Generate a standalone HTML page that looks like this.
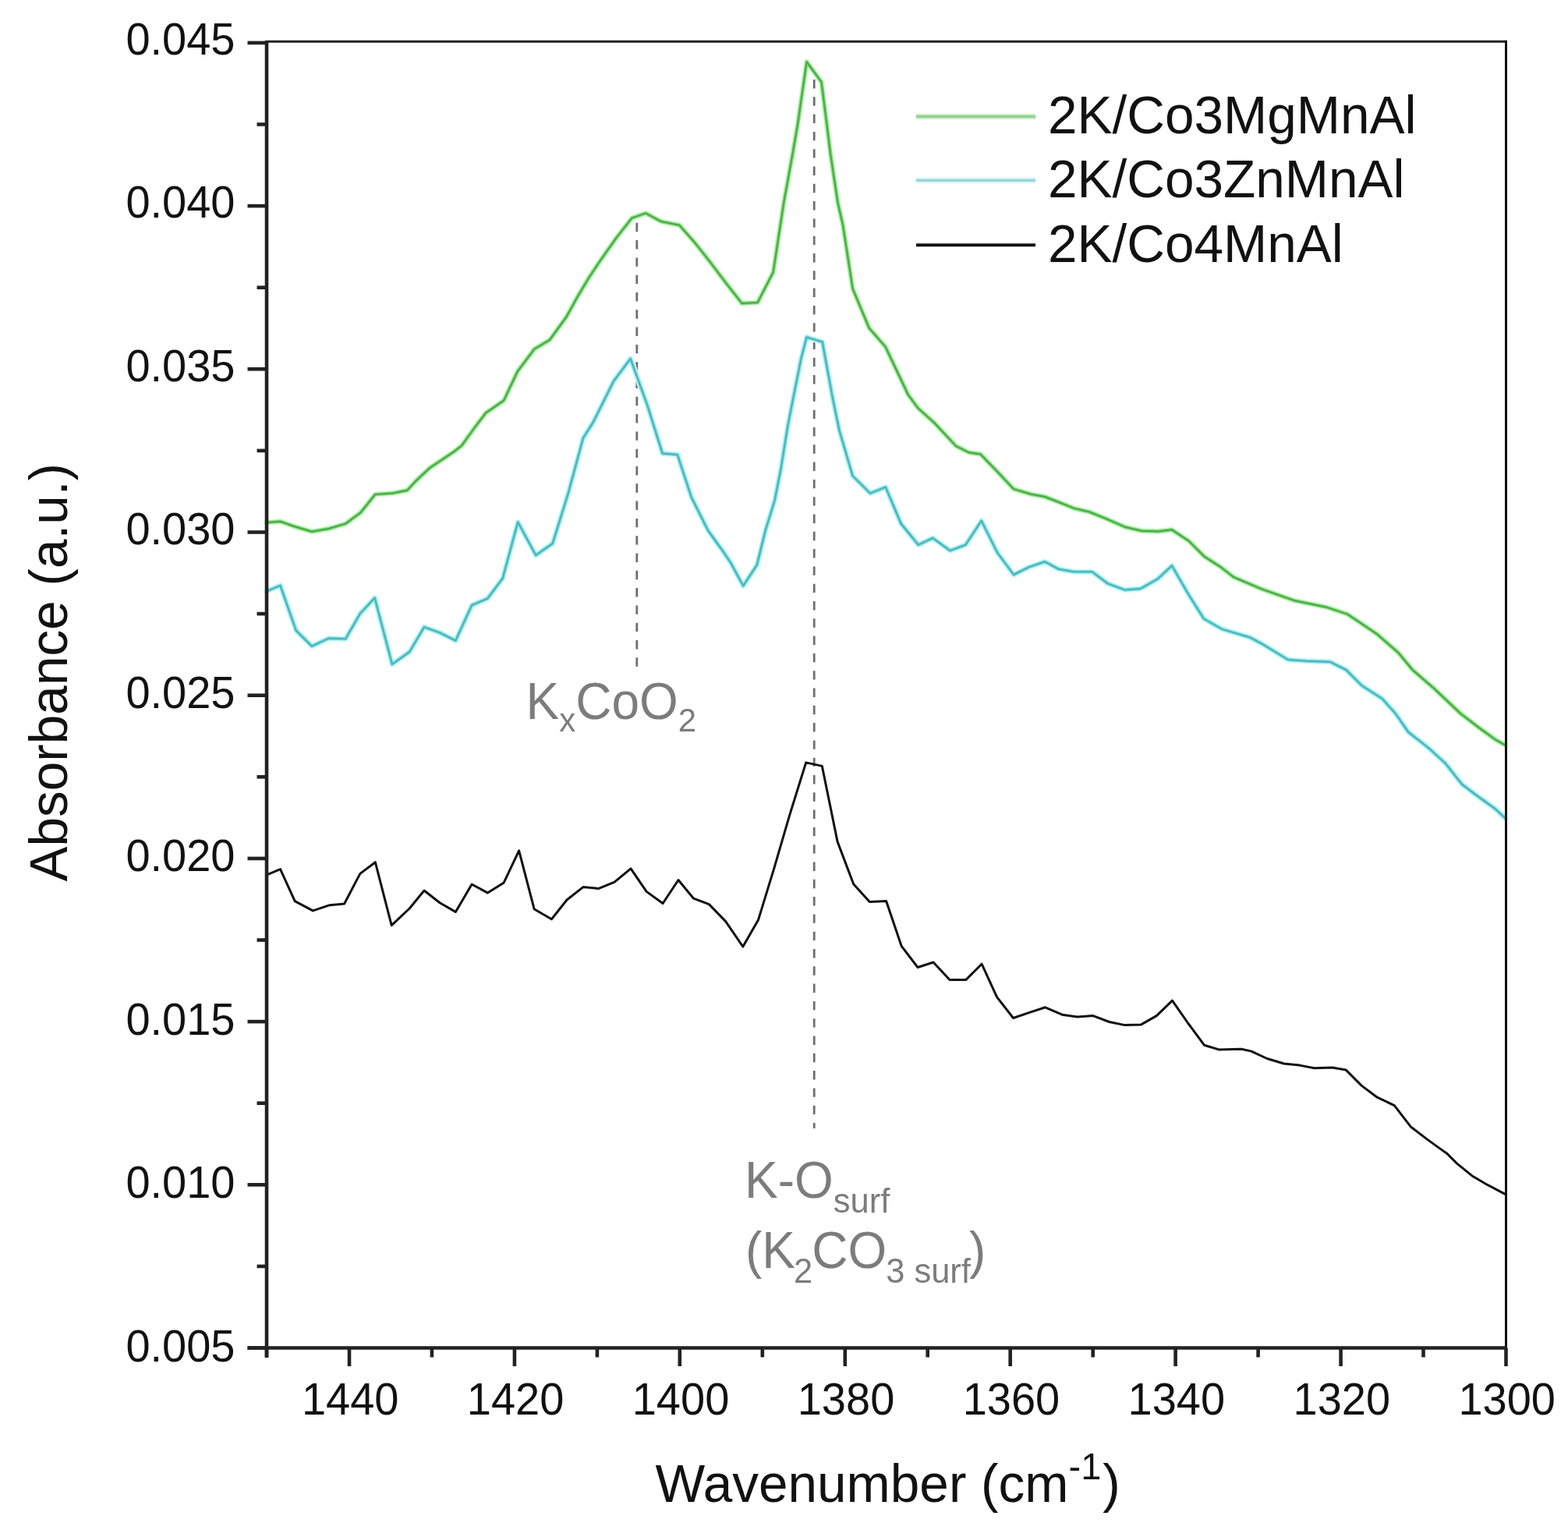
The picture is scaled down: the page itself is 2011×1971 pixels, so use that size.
<!DOCTYPE html>
<html><head><meta charset="utf-8"><title>Absorbance vs Wavenumber</title>
<style>
html,body{margin:0;padding:0;background:#fff;overflow:hidden;}
svg{display:block;}
text{font-family:"Liberation Sans",Arial,sans-serif;fill:#111;}
.tl{font-size:56px;}
.ax{stroke:#222;stroke-width:4.6;}
.lg{font-size:67.5px;}
.an{fill:#7c7c7c;}
</style></head>
<body>
<svg width="2011" height="1971" viewBox="0 0 2011 1971">
<rect x="0" y="0" width="2011" height="1971" fill="#fff"/>
<g id="dashes" stroke="#6e6e6e" stroke-width="2.8" stroke-dasharray="11.4 10.9" fill="none">
<line x1="816.8" y1="285.8" x2="816.8" y2="856"/>
<line x1="1044.2" y1="102" x2="1044.2" y2="1447"/>
</g>
<g id="halos" fill="none" stroke-linejoin="round" stroke-linecap="round">
<polyline stroke="#d8fad5" stroke-width="7.5" points="342.2,670.0 359.5,668.7 378.2,675.3 399.9,681.7 421.5,678.0 443.1,671.6 462.6,657.2 481.2,634.0 503.8,632.5 522.3,628.7 532.6,617.5 551.2,600.0 582.0,579.4 592.3,571.2 606.8,551.0 622.9,529.6 646.1,513.6 663.9,476.1 685.4,447.5 705.0,435.9 726.4,406.4 740.7,380.5 755.0,356.5 769.3,335.0 790.7,304.6 810.4,279.6 828.2,273.4 847.9,284.1 871.4,288.8 891.4,311.5 911.5,337.0 931.5,363.5 951.5,389.0 971.6,388.0 991.6,349.3 1005.2,260.0 1016.7,196.6 1023.0,159.8 1034.6,79.4 1053.5,105.2 1059.8,154.5 1065.0,196.6 1074.5,260.0 1081.0,288.3 1093.6,370.2 1114.6,420.6 1135.6,444.8 1165.0,506.7 1177.6,523.6 1198.6,542.5 1225.9,571.9 1242.7,580.3 1257.4,582.4 1279.1,604.8 1300.1,627.1 1322.3,633.8 1340.0,637.0 1356.0,643.2 1377.6,651.9 1396.4,656.2 1418.0,664.9 1442.5,675.7 1464.1,680.7 1485.7,681.4 1503.0,679.3 1524.6,693.7 1544.8,713.8 1565.0,726.8 1582.0,740.0 1618.1,755.4 1659.3,769.9 1700.4,778.4 1728.2,787.6 1765.3,812.6 1793.1,836.7 1811.6,859.0 1839.4,883.1 1857.3,900.0 1874.0,915.7 1897.1,933.4 1917.5,948.2 1930.5,955.6"/>
<polyline stroke="#d2fafa" stroke-width="7.5" points="342.2,758.1 359.5,750.9 379.7,808.5 399.9,828.7 421.5,818.6 443.1,819.3 461.8,786.9 480.6,766.7 502.9,851.8 525.2,835.9 544.0,804.2 564.1,811.4 584.3,821.5 605.1,776.2 625.3,767.5 644.7,741.6 664.2,669.5 687.2,712.0 708.8,696.9 728.9,632.0 747.9,561.8 760.4,542.1 787.1,488.6 808.6,460.0 830.0,519.0 849.6,581.4 868.8,583.0 886.8,637.8 907.8,679.8 928.8,709.2 937.2,721.8 953.2,751.3 970.8,724.4 981.8,679.8 993.5,642.0 1001.4,601.8 1010.0,548.4 1014.4,525.4 1027.3,460.5 1034.5,432.4 1054.7,438.5 1067.7,509.5 1076.3,551.3 1093.6,610.4 1116.1,632.6 1135.8,624.6 1155.6,671.5 1177.8,698.7 1196.3,690.0 1218.6,706.1 1238.3,698.7 1258.7,667.8 1279.1,708.6 1300.1,737.0 1319.9,727.1 1340.2,720.3 1357.5,729.7 1377.6,733.3 1400.7,733.3 1420.9,748.4 1442.5,756.4 1462.7,754.9 1484.3,742.7 1503.0,725.4 1524.6,762.8 1544.0,793.5 1567.6,806.9 1602.6,817.2 1618.1,825.4 1652.0,846.0 1676.3,847.8 1706.0,848.8 1726.4,859.0 1746.8,879.3 1772.7,896.0 1789.6,914.8 1806.3,938.9 1832.3,959.3 1853.6,978.7 1874.9,1005.6 1894.3,1020.4 1917.5,1037.1 1930.5,1049.2"/>
<polyline stroke="#84dc7e" stroke-width="4.6" points="342.2,670.0 359.5,668.7 378.2,675.3 399.9,681.7 421.5,678.0 443.1,671.6 462.6,657.2 481.2,634.0 503.8,632.5 522.3,628.7 532.6,617.5 551.2,600.0 582.0,579.4 592.3,571.2 606.8,551.0 622.9,529.6 646.1,513.6 663.9,476.1 685.4,447.5 705.0,435.9 726.4,406.4 740.7,380.5 755.0,356.5 769.3,335.0 790.7,304.6 810.4,279.6 828.2,273.4 847.9,284.1 871.4,288.8 891.4,311.5 911.5,337.0 931.5,363.5 951.5,389.0 971.6,388.0 991.6,349.3 1005.2,260.0 1016.7,196.6 1023.0,159.8 1034.6,79.4 1053.5,105.2 1059.8,154.5 1065.0,196.6 1074.5,260.0 1081.0,288.3 1093.6,370.2 1114.6,420.6 1135.6,444.8 1165.0,506.7 1177.6,523.6 1198.6,542.5 1225.9,571.9 1242.7,580.3 1257.4,582.4 1279.1,604.8 1300.1,627.1 1322.3,633.8 1340.0,637.0 1356.0,643.2 1377.6,651.9 1396.4,656.2 1418.0,664.9 1442.5,675.7 1464.1,680.7 1485.7,681.4 1503.0,679.3 1524.6,693.7 1544.8,713.8 1565.0,726.8 1582.0,740.0 1618.1,755.4 1659.3,769.9 1700.4,778.4 1728.2,787.6 1765.3,812.6 1793.1,836.7 1811.6,859.0 1839.4,883.1 1857.3,900.0 1874.0,915.7 1897.1,933.4 1917.5,948.2 1930.5,955.6"/>
<polyline stroke="#7ee0e4" stroke-width="4.6" points="342.2,758.1 359.5,750.9 379.7,808.5 399.9,828.7 421.5,818.6 443.1,819.3 461.8,786.9 480.6,766.7 502.9,851.8 525.2,835.9 544.0,804.2 564.1,811.4 584.3,821.5 605.1,776.2 625.3,767.5 644.7,741.6 664.2,669.5 687.2,712.0 708.8,696.9 728.9,632.0 747.9,561.8 760.4,542.1 787.1,488.6 808.6,460.0 830.0,519.0 849.6,581.4 868.8,583.0 886.8,637.8 907.8,679.8 928.8,709.2 937.2,721.8 953.2,751.3 970.8,724.4 981.8,679.8 993.5,642.0 1001.4,601.8 1010.0,548.4 1014.4,525.4 1027.3,460.5 1034.5,432.4 1054.7,438.5 1067.7,509.5 1076.3,551.3 1093.6,610.4 1116.1,632.6 1135.8,624.6 1155.6,671.5 1177.8,698.7 1196.3,690.0 1218.6,706.1 1238.3,698.7 1258.7,667.8 1279.1,708.6 1300.1,737.0 1319.9,727.1 1340.2,720.3 1357.5,729.7 1377.6,733.3 1400.7,733.3 1420.9,748.4 1442.5,756.4 1462.7,754.9 1484.3,742.7 1503.0,725.4 1524.6,762.8 1544.0,793.5 1567.6,806.9 1602.6,817.2 1618.1,825.4 1652.0,846.0 1676.3,847.8 1706.0,848.8 1726.4,859.0 1746.8,879.3 1772.7,896.0 1789.6,914.8 1806.3,938.9 1832.3,959.3 1853.6,978.7 1874.9,1005.6 1894.3,1020.4 1917.5,1037.1 1930.5,1049.2"/>
</g>
<g id="curves" fill="none" stroke-linejoin="round" stroke-linecap="round">
<polyline stroke="#4aa845" stroke-width="2.0" points="342.2,670.0 359.5,668.7 378.2,675.3 399.9,681.7 421.5,678.0 443.1,671.6 462.6,657.2 481.2,634.0 503.8,632.5 522.3,628.7 532.6,617.5 551.2,600.0 582.0,579.4 592.3,571.2 606.8,551.0 622.9,529.6 646.1,513.6 663.9,476.1 685.4,447.5 705.0,435.9 726.4,406.4 740.7,380.5 755.0,356.5 769.3,335.0 790.7,304.6 810.4,279.6 828.2,273.4 847.9,284.1 871.4,288.8 891.4,311.5 911.5,337.0 931.5,363.5 951.5,389.0 971.6,388.0 991.6,349.3 1005.2,260.0 1016.7,196.6 1023.0,159.8 1034.6,79.4 1053.5,105.2 1059.8,154.5 1065.0,196.6 1074.5,260.0 1081.0,288.3 1093.6,370.2 1114.6,420.6 1135.6,444.8 1165.0,506.7 1177.6,523.6 1198.6,542.5 1225.9,571.9 1242.7,580.3 1257.4,582.4 1279.1,604.8 1300.1,627.1 1322.3,633.8 1340.0,637.0 1356.0,643.2 1377.6,651.9 1396.4,656.2 1418.0,664.9 1442.5,675.7 1464.1,680.7 1485.7,681.4 1503.0,679.3 1524.6,693.7 1544.8,713.8 1565.0,726.8 1582.0,740.0 1618.1,755.4 1659.3,769.9 1700.4,778.4 1728.2,787.6 1765.3,812.6 1793.1,836.7 1811.6,859.0 1839.4,883.1 1857.3,900.0 1874.0,915.7 1897.1,933.4 1917.5,948.2 1930.5,955.6"/>
<polyline stroke="#4eb0b6" stroke-width="2.0" points="342.2,758.1 359.5,750.9 379.7,808.5 399.9,828.7 421.5,818.6 443.1,819.3 461.8,786.9 480.6,766.7 502.9,851.8 525.2,835.9 544.0,804.2 564.1,811.4 584.3,821.5 605.1,776.2 625.3,767.5 644.7,741.6 664.2,669.5 687.2,712.0 708.8,696.9 728.9,632.0 747.9,561.8 760.4,542.1 787.1,488.6 808.6,460.0 830.0,519.0 849.6,581.4 868.8,583.0 886.8,637.8 907.8,679.8 928.8,709.2 937.2,721.8 953.2,751.3 970.8,724.4 981.8,679.8 993.5,642.0 1001.4,601.8 1010.0,548.4 1014.4,525.4 1027.3,460.5 1034.5,432.4 1054.7,438.5 1067.7,509.5 1076.3,551.3 1093.6,610.4 1116.1,632.6 1135.8,624.6 1155.6,671.5 1177.8,698.7 1196.3,690.0 1218.6,706.1 1238.3,698.7 1258.7,667.8 1279.1,708.6 1300.1,737.0 1319.9,727.1 1340.2,720.3 1357.5,729.7 1377.6,733.3 1400.7,733.3 1420.9,748.4 1442.5,756.4 1462.7,754.9 1484.3,742.7 1503.0,725.4 1524.6,762.8 1544.0,793.5 1567.6,806.9 1602.6,817.2 1618.1,825.4 1652.0,846.0 1676.3,847.8 1706.0,848.8 1726.4,859.0 1746.8,879.3 1772.7,896.0 1789.6,914.8 1806.3,938.9 1832.3,959.3 1853.6,978.7 1874.9,1005.6 1894.3,1020.4 1917.5,1037.1 1930.5,1049.2"/>
<polyline stroke="#111" stroke-width="3.0" points="342.2,1121.8 359.5,1114.6 378.2,1155.7 401.3,1167.9 422.9,1160.7 441.6,1159.0 461.8,1120.4 481.3,1105.7 502.2,1186.6 525.2,1165.0 544.0,1142.0 564.1,1157.8 584.3,1169.4 605.1,1134.0 625.3,1144.9 646.2,1131.9 665.6,1090.8 685.1,1165.7 707.4,1178.7 727.0,1154.0 747.8,1137.6 767.9,1139.4 788.1,1131.2 809.0,1113.9 829.2,1143.4 850.1,1158.5 870.0,1128.5 889.6,1152.2 909.4,1159.6 930.7,1181.6 952.8,1214.0 972.6,1179.4 992.6,1114.1 1012.6,1045.6 1033.7,977.9 1054.3,982.4 1074.1,1079.4 1094.7,1133.8 1115.3,1156.6 1136.6,1155.5 1156.1,1213.1 1177.0,1240.5 1197.1,1234.0 1218.0,1256.4 1238.9,1256.4 1259.1,1236.2 1278.6,1278.7 1299.5,1305.5 1320.4,1298.3 1340.6,1291.8 1362.2,1301.2 1381.7,1304.0 1401.9,1302.6 1422.8,1310.5 1442.9,1314.6 1463.1,1314.1 1483.3,1302.6 1503.5,1283.1 1523.6,1312.0 1544.4,1340.2 1563.1,1345.9 1592.0,1345.2 1604.9,1348.1 1625.1,1357.5 1646.7,1364.0 1666.9,1366.1 1685.6,1369.7 1708.7,1369.0 1726.0,1371.9 1746.2,1392.1 1766.3,1407.2 1788.3,1417.6 1809.1,1444.7 1829.5,1460.4 1844.3,1471.1 1855.4,1478.9 1868.4,1491.9 1887.8,1507.7 1908.2,1519.7 1930.5,1531.3"/>
</g>
<g id="frame" fill="none">
<line x1="342" y1="53.3" x2="1931.5" y2="53.3" stroke="#222" stroke-width="3"/>
<line x1="1931.5" y1="51.8" x2="1931.5" y2="1731" stroke="#111" stroke-width="3"/>
<line x1="342" y1="52" x2="342" y2="1741" class="ax"/>
<line x1="317.5" y1="1728.5" x2="1933" y2="1728.5" class="ax"/>
<line x1="317.5" y1="54.9" x2="342" y2="54.9" class="ax"/><line x1="329.5" y1="159.5" x2="342" y2="159.5" class="ax"/><line x1="317.5" y1="264.1" x2="342" y2="264.1" class="ax"/><line x1="329.5" y1="368.7" x2="342" y2="368.7" class="ax"/><line x1="317.5" y1="473.3" x2="342" y2="473.3" class="ax"/><line x1="329.5" y1="577.9" x2="342" y2="577.9" class="ax"/><line x1="317.5" y1="682.5" x2="342" y2="682.5" class="ax"/><line x1="329.5" y1="787.1" x2="342" y2="787.1" class="ax"/><line x1="317.5" y1="891.7" x2="342" y2="891.7" class="ax"/><line x1="329.5" y1="996.3" x2="342" y2="996.3" class="ax"/><line x1="317.5" y1="1100.9" x2="342" y2="1100.9" class="ax"/><line x1="329.5" y1="1205.5" x2="342" y2="1205.5" class="ax"/><line x1="317.5" y1="1310.1" x2="342" y2="1310.1" class="ax"/><line x1="329.5" y1="1414.7" x2="342" y2="1414.7" class="ax"/><line x1="317.5" y1="1519.3" x2="342" y2="1519.3" class="ax"/><line x1="329.5" y1="1623.9" x2="342" y2="1623.9" class="ax"/><line x1="317.5" y1="1728.5" x2="342" y2="1728.5" class="ax"/><line x1="342.0" y1="1728.5" x2="342.0" y2="1740.5" class="ax"/><line x1="448.0" y1="1728.5" x2="448.0" y2="1752" class="ax"/><line x1="553.9" y1="1728.5" x2="553.9" y2="1740.5" class="ax"/><line x1="659.9" y1="1728.5" x2="659.9" y2="1752" class="ax"/><line x1="765.9" y1="1728.5" x2="765.9" y2="1740.5" class="ax"/><line x1="871.8" y1="1728.5" x2="871.8" y2="1752" class="ax"/><line x1="977.8" y1="1728.5" x2="977.8" y2="1740.5" class="ax"/><line x1="1083.8" y1="1728.5" x2="1083.8" y2="1752" class="ax"/><line x1="1189.7" y1="1728.5" x2="1189.7" y2="1740.5" class="ax"/><line x1="1295.7" y1="1728.5" x2="1295.7" y2="1752" class="ax"/><line x1="1401.7" y1="1728.5" x2="1401.7" y2="1740.5" class="ax"/><line x1="1507.6" y1="1728.5" x2="1507.6" y2="1752" class="ax"/><line x1="1613.6" y1="1728.5" x2="1613.6" y2="1740.5" class="ax"/><line x1="1719.6" y1="1728.5" x2="1719.6" y2="1752" class="ax"/><line x1="1825.5" y1="1728.5" x2="1825.5" y2="1740.5" class="ax"/><line x1="1931.5" y1="1728.5" x2="1931.5" y2="1752" class="ax"/>
</g>
<g id="ylabels"><text transform="translate(301.5,69.8) scale(1,1.035)" text-anchor="end" class="tl">0.045</text><text transform="translate(301.5,279.3) scale(1,1.035)" text-anchor="end" class="tl">0.040</text><text transform="translate(301.5,488.8) scale(1,1.035)" text-anchor="end" class="tl">0.035</text><text transform="translate(301.5,698.3) scale(1,1.035)" text-anchor="end" class="tl">0.030</text><text transform="translate(301.5,907.8) scale(1,1.035)" text-anchor="end" class="tl">0.025</text><text transform="translate(301.5,1117.4) scale(1,1.035)" text-anchor="end" class="tl">0.020</text><text transform="translate(301.5,1326.9) scale(1,1.035)" text-anchor="end" class="tl">0.015</text><text transform="translate(301.5,1536.4) scale(1,1.035)" text-anchor="end" class="tl">0.010</text><text transform="translate(301.5,1745.9) scale(1,1.035)" text-anchor="end" class="tl">0.005</text></g>
<g id="xlabels"><text transform="translate(449.2,1813.6) scale(1,1.035)" text-anchor="middle" class="tl">1440</text><text transform="translate(661.1,1813.6) scale(1,1.035)" text-anchor="middle" class="tl">1420</text><text transform="translate(873.0,1813.6) scale(1,1.035)" text-anchor="middle" class="tl">1400</text><text transform="translate(1085.0,1813.6) scale(1,1.035)" text-anchor="middle" class="tl">1380</text><text transform="translate(1296.9,1813.6) scale(1,1.035)" text-anchor="middle" class="tl">1360</text><text transform="translate(1508.8,1813.6) scale(1,1.035)" text-anchor="middle" class="tl">1340</text><text transform="translate(1720.8,1813.6) scale(1,1.035)" text-anchor="middle" class="tl">1320</text><text transform="translate(1932.7,1813.6) scale(1,1.035)" text-anchor="middle" class="tl">1300</text></g>
<text transform="translate(840.5,1925.5) scale(1,1.015)" font-size="67.5px">Wavenumber (cm<tspan font-size="47px" dy="-28.5">-1</tspan><tspan dx="2" dy="28.5">)</tspan></text>
<text transform="translate(86,1130.5) rotate(-90) scale(1,1.015)" font-size="67.5px">Absorbance (a.u.)</text>
<g id="legend">
<line x1="1175" y1="149.5" x2="1328" y2="149.5" stroke="#dcfad8" stroke-width="8"/>
<line x1="1175" y1="231.3" x2="1328" y2="231.3" stroke="#d8fafa" stroke-width="8"/>
<line x1="1175" y1="149.5" x2="1328" y2="149.5" stroke="#98cf94" stroke-width="4"/>
<line x1="1175" y1="231.3" x2="1328" y2="231.3" stroke="#a2d4d4" stroke-width="3.6"/>
<line x1="1175" y1="314.2" x2="1328" y2="314.2" stroke="#111" stroke-width="4"/>
<text transform="translate(1344,170.8) scale(1,1.025)" class="lg">2K/Co3MgMnAl</text>
<text transform="translate(1344,252.6) scale(1,1.025)" class="lg">2K/Co3ZnMnAl</text>
<text transform="translate(1344,335.5) scale(1,1.025)" class="lg">2K/Co4MnAl</text>
</g>
<g id="annot" class="an">
<text transform="translate(674.5,922) scale(1,1.03)" font-size="64px" class="an">K<tspan font-size="42px" dy="16">x</tspan><tspan dy="-16">CoO</tspan><tspan font-size="42px" dy="16">2</tspan></text>
<text transform="translate(955,1535.6) scale(1,1.03)" font-size="64px" class="an">K-O<tspan font-size="43.5px" dy="18.4">surf</tspan></text>
<text transform="translate(956,1626.3) scale(1,1.03)" font-size="64px" class="an">(K<tspan font-size="43.5px" dx="-2" dy="18.3">2</tspan><tspan dx="-1" dy="-18.3">CO</tspan><tspan font-size="43.5px" dx="-1" dy="18.3">3 surf</tspan><tspan dx="-2" dy="-18.3">)</tspan></text>
</g>
</svg>
</body></html>
